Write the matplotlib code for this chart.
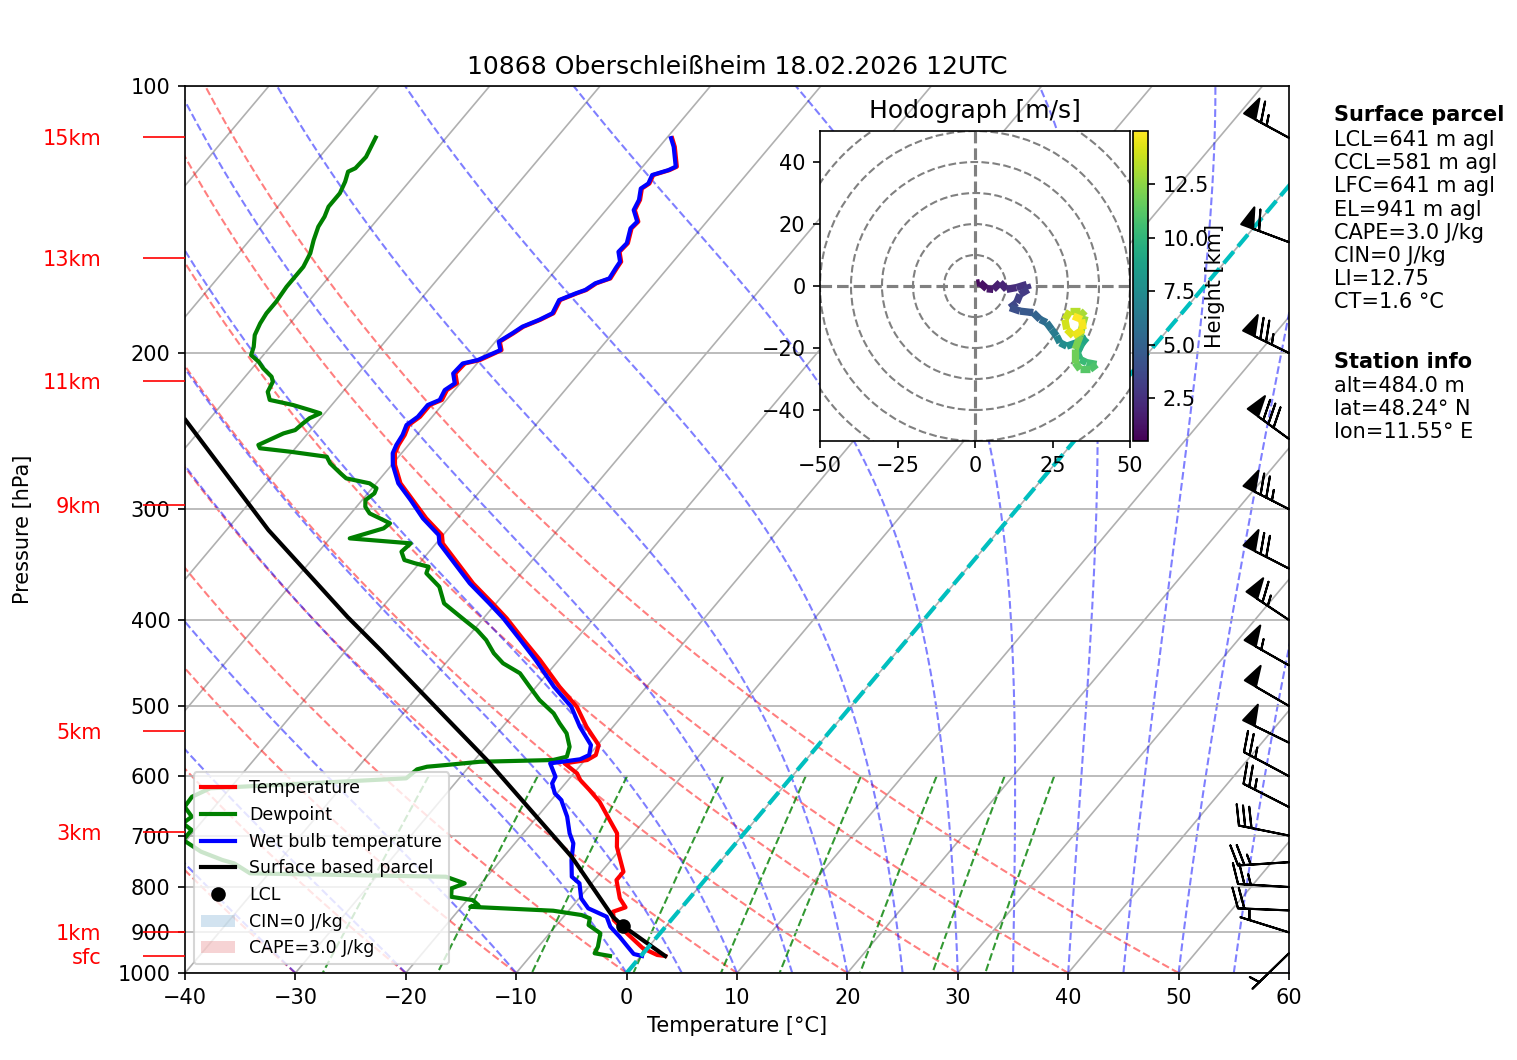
import numpy as np
import matplotlib
matplotlib.use('Agg')
import matplotlib.pyplot as plt
import matplotlib.transforms as mtransforms
from matplotlib.collections import LineCollection
from matplotlib.patches import Circle, Patch
from matplotlib.ticker import NullLocator

## sounding values (hPa, degC)
p_t = [114.5, 117.1, 123.3, 124.4, 126.0, 128.8, 130.5, 134.4, 138.0, 142.2,
       144.7, 150.4, 153.8, 157.8, 160.5, 164.8, 166.9, 169.8, 171.3, 174.3,
       180.4, 183.5, 186.8, 190.0, 194.2, 198.5, 203.7, 205.5, 210.9, 216.4,
       220.2, 225.9, 228.9, 236.0, 241.1, 247.4, 253.9, 259.4, 267.4, 280.5,
       293.0, 307.2, 320.8, 327.8, 363.7, 383.1, 398.2, 421.3, 443.7, 475.6,
       501.0, 527.7, 553.4, 567.9, 575.3, 580.3, 595.6, 606.0, 621.9, 641.1,
       672.2, 696.0, 720.6, 768.9, 785.6, 823.9, 843.3, 852.9, 871.5, 902.1,
       938.0, 954.3, 956.8]
temp = [-59.5, -58.6, -56.9, -57.3, -58.4, -58.1, -58.4, -57.7, -57.4, -56.2,
        -56.3, -55.5, -55.6, -54.7, -54.6, -54.4, -55.3, -55.7, -56.3, -57.3,
        -56.9, -57.6, -58.6, -59.0, -59.6, -58.8, -60.0, -61.1, -61.2, -60.3,
        -60.7, -60.4, -61.1, -61.1, -61.5, -61.1, -60.9, -60.6, -59.7, -57.8,
        -55.4, -52.8, -50.1, -49.4, -43.6, -40.3, -37.9, -34.7, -31.7, -27.9,
        -24.8, -22.4, -19.9, -19.4, -19.8, -21.6, -19.7, -18.9, -17.3, -15.5,
        -13.2, -11.5, -10.5, -8.0, -8.0, -6.3, -5.1, -5.9, -5.2, -3.0,
        -0.4, 1.4, 2.2]

p_tw = [114.5, 117.1, 123.3, 124.4, 126.0, 128.8, 130.5, 134.4, 138.0, 142.2,
        144.7, 150.4, 153.8, 157.8, 160.5, 164.8, 166.9, 169.8, 171.3, 174.3,
        180.4, 183.5, 186.8, 190.0, 194.2, 198.5, 203.7, 205.5, 210.9, 216.4,
        220.2, 225.9, 228.9, 236.0, 241.1, 247.4, 253.9, 259.4, 267.4, 280.5,
        293.0, 307.2, 320.8, 327.8, 363.7, 383.1, 398.2, 421.3, 443.7, 475.6,
        501.0, 527.7, 553.4, 567.9, 574.2, 580.3, 600.8, 611.2, 627.2, 638.3,
        666.4, 696.0, 714.3, 745.9, 778.9, 792.4, 823.9, 845.5, 864.0, 886.8,
        910.1, 934.1, 951.9, 956.8]
wetbulb = [-59.6, -58.7, -57.0, -57.4, -58.5, -58.2, -58.5, -57.8, -57.5, -56.3,
           -56.4, -55.6, -55.7, -54.8, -54.7, -54.5, -55.4, -55.8, -56.4, -57.4,
           -57.0, -57.7, -58.7, -59.1, -59.7, -58.9, -60.2, -61.3, -61.4, -60.5,
           -60.9, -60.6, -61.3, -61.3, -61.7, -61.3, -61.1, -60.8, -59.9, -58.0,
           -55.6, -53.1, -50.4, -49.7, -43.9, -40.6, -38.2, -35.0, -32.1, -28.4,
           -25.3, -23.0, -20.6, -20.0, -20.5, -22.9, -21.4, -21.2, -20.2, -19.1,
           -17.3, -15.8, -14.7, -13.6, -12.3, -11.1, -9.8, -8.4, -6.1, -5.0,
           -3.4, -1.9, -0.8, 0.1]

p_td = [114.3, 120.2, 123.8, 124.9, 128.2, 132.1, 136.8, 140.4, 144.1, 149.2,
        154.4, 159.9, 164.8, 168.4, 175.1, 180.4, 185.2, 190.9, 196.8, 201.1,
        204.6, 208.1, 212.7, 215.5, 221.2, 225.9, 228.9, 231.9, 233.9, 236.9,
        240.1, 244.3, 246.4, 253.9, 256.1, 258.4, 261.8, 266.3, 273.3, 276.9,
        280.5, 284.1, 287.9, 293.0, 298.1, 303.3, 307.2, 311.2, 315.3, 323.6,
        327.8, 335.0, 342.3, 345.2, 348.3, 354.3, 366.9, 383.1, 399.9, 410.4,
        421.3, 436.0, 447.5, 459.3, 475.6, 492.3, 509.6, 523.0, 536.8, 555.9,
        570.4, 575.3, 577.9, 582.8, 585.4, 589.4, 603.3, 619.1, 632.9, 649.5,
        666.4, 678.0, 689.9, 708.0, 729.8, 745.9, 752.3, 772.1, 778.9, 792.4,
        802.7, 820.5, 827.6, 838.4, 842.1, 850.7, 860.3, 867.7, 882.9, 902.1,
        934.1, 950.1, 956.8]
dewpoint = [-86.4, -85.8, -85.9, -86.3, -85.8, -85.4, -85.4, -85.0, -84.8, -84.2,
            -83.5, -83.1, -83.1, -83.1, -82.9, -82.9, -82.7, -82.3, -81.5, -81.1,
            -79.9, -79.0, -77.6, -77.1, -76.8, -76.0, -73.5, -71.6, -70.4, -71.0,
            -71.2, -71.4, -72.2, -73.6, -73.2, -70.2, -66.5, -65.7, -64.0, -63.1,
            -60.6, -59.6, -59.4, -59.7, -59.2, -58.3, -57.0, -55.7, -55.9, -58.2,
            -52.3, -52.5, -51.6, -50.4, -48.9, -48.6, -46.4, -44.7, -41.6, -39.7,
            -38.1, -36.4, -34.8, -32.5, -30.6, -28.7, -26.4, -25.1, -23.7, -22.4,
            -21.9, -22.9, -29.4, -32.2, -33.8, -34.5, -34.8, -51.8, -52.8, -52.7,
            -51.3, -51.6, -50.3, -50.3, -47.8, -45.2, -43.9, -41.7, -23.7, -21.5,
            -22.3, -21.7, -19.5, -18.6, -19.2, -11.4, -8.5, -7.5, -7.1, -5.4,
            -4.6, -4.4, -2.8]

p_parcel = [956.8, 885.3, 864.7, 740.0, 575.2, 432.4, 396.9, 316.7, 238.0]
t_parcel = [2.2, -3.9, -5.5, -13.8, -28.9, -46.9, -52.4, -66.2, -82.1]
lcl_p, lcl_t = 885.3, -3.9

# wind barbs (kt)
barb_p = [114.4, 150, 200, 250, 300, 350, 400, 450, 500, 550,
          600, 650, 700, 750, 800, 850, 900, 950]
barb_u = [57.1, 56.2, 67.4, 64.6, 66.8, 62.3, 54.1, 47.8, 43.2, 44.9,
          22.0, 22.3, 29.4, 25.0, 25.0, 20.0, 4.8, 3.6]
barb_v = [-31.0, -21.1, -32.9, -47.2, -34.1, -31.9, -36.1, -27.2, -25.1, -22.0,
          -11.8, -11.4, -5.9, 1.6, -1.5, -0.8, -1.5, 3.5]

# hodograph (m/s) and height (km)
hodo_u = [0.5, 1.6, 3.8, 5.9, 8.1, 10.2, 13.4, 16.7, 17.2, 14.5,
          13.4, 11.3, 14.5, 18.8, 21.0, 23.1, 24.7, 26.3, 27.4, 29.6,
          32.8, 36.0, 34.5, 33.0, 33.9, 36.0, 39.2, 37.1, 33.9, 32.3,
          32.3, 33.9, 34.9, 35.5, 33.9, 30.6, 29.0, 29.6, 31.7, 34.9,
          34.4, 31.7]
hodo_v = [0.9, 1.1, -0.9, -1.1, 1.1, -1.1, -0.5, 0.5, -1.1, -2.7,
          -5.4, -7.0, -8.1, -8.6, -10.8, -11.8, -14.0, -16.1, -18.3, -19.4,
          -18.3, -16.7, -18.5, -21.5, -23.7, -24.7, -25.3, -26.9, -26.9, -24.7,
          -20.4, -16.1, -11.8, -9.7, -8.1, -8.1, -10.8, -14.0, -16.1, -14.0,
          -10.8, -9.7]
hodo_h = [0.5, 0.8, 1.1, 1.4, 1.7, 2.0, 2.3, 2.6, 2.8, 3.0,
          3.3, 3.6, 4.0, 4.5, 5.0, 5.5, 6.0, 6.5, 7.0, 7.5,
          8.0, 8.5, 9.0, 9.5, 10.0, 10.3, 10.6, 10.9, 11.2, 11.5,
          11.8, 12.1, 12.5, 12.8, 13.1, 13.4, 13.7, 14.0, 14.3, 14.6,
          14.8, 15.0]

height_p = [956.8, 899.0, 693.5, 533.6, 296.8, 215.1, 156.3, 114.2]
height_labels = ['sfc', '1km', '3km', '5km', '9km', '11km', '13km', '15km']

title = '10868 Oberschleißheim 18.02.2026 12UTC'
parcel_lines = ['LCL=641 m agl', 'CCL=581 m agl', 'LFC=641 m agl', 'EL=941 m agl',
                'CAPE=3.0 J/kg', 'CIN=0 J/kg', 'LI=12.75', 'CT=1.6 °C']
station_lines = ['alt=484.0 m', 'lat=48.24° N', 'lon=11.55° E']

## background lines
dry_t0 = np.arange(-40, 51, 10)
moist_t0 = np.concatenate((np.arange(-40, 0, 10), np.arange(0, 61, 5)))
mix_w = [0.0004, 0.001, 0.002, 0.004, 0.007, 0.01, 0.016, 0.024, 0.032]

SKEW = 0.676
W, H = 1517, 1060


def dtdp(T, p):
    es = 6.112 * np.exp(17.67 * (T - 273.15) / (T - 29.65))
    rs = 0.622 * es / (p - es)
    Lv = 2.501e6
    return (287.04 * T + Lv * rs) / (1005.7 + Lv * Lv * rs * 0.622 / (287.04 * T * T)) / p


def moist_curve(t0, pres):
    T = t0 + 273.15
    out = [T]
    for i in range(len(pres) - 1):
        p0, p1 = pres[i], pres[i + 1]
        h = p1 - p0
        k1 = dtdp(T, p0)
        k2 = dtdp(T + h / 2 * k1, p0 + h / 2)
        k3 = dtdp(T + h / 2 * k2, p0 + h / 2)
        k4 = dtdp(T + h * k3, p1)
        T = T + h / 6 * (k1 + 2 * k2 + 2 * k3 + k4)
        out.append(T)
    return np.array(out) - 273.15


fig = plt.figure(figsize=(W / 150, H / 150), dpi=150)
ax = fig.add_axes([185 / W, 87 / H, 1104 / W, 887 / H])
ax.set_yscale('log')
ax.set_ylim(1000, 100)
ax.set_xlim(-40, 60)
ax.set_autoscale_on(False)
skew = ax.transScale + ax.transLimits + mtransforms.Affine2D().skew(np.arctan(SKEW), 0) + ax.transAxes

# isotherms
for t0 in range(-110, 61, 10):
    ax.plot([t0, t0], [1000, 100], color='#b0b0b0', lw=0.8, transform=skew, zorder=1)

pres = np.linspace(1000, 100, 181)
for t0 in dry_t0:
    tt = (t0 + 273.15) * (pres / 1000.) ** 0.2857 - 273.15
    ax.plot(tt, pres, color='r', ls='--', lw=1, alpha=0.5, transform=skew, zorder=1.2)
for t0 in moist_t0:
    ax.plot(moist_curve(t0, pres), pres, color='b', ls='--', lw=1, alpha=0.5, transform=skew, zorder=1.2)
pmix = np.linspace(600, 1000, 7)
for w in mix_w:
    e = pmix * w / (0.622 + w)
    val = np.log(e / 6.112)
    ax.plot(243.5 * val / (17.67 - val), pmix, color='g', ls='--', lw=1, alpha=0.8, transform=skew, zorder=1.2)

# profiles
l_t, = ax.plot(temp, p_t, color='r', lw=2, transform=skew, label='Temperature')
l_td, = ax.plot(dewpoint, p_td, color='g', lw=2, transform=skew, label='Dewpoint')
l_tw, = ax.plot(wetbulb, p_tw, color='b', lw=2, transform=skew, label='Wet bulb temperature')
l_pc, = ax.plot(t_parcel, p_parcel, color='k', lw=2, transform=skew, label='Surface based parcel')
l_lcl, = ax.plot([lcl_t], [lcl_p], 'ko', transform=skew, label='LCL')
ax.plot([0, 0], [1000, 100], color='c', ls='--', lw=2, transform=skew)

cin_patch = Patch(facecolor='tab:blue', alpha=0.2, label='CIN=0 J/kg')
cape_patch = Patch(facecolor='tab:red', alpha=0.2, label='CAPE=3.0 J/kg')
ax.legend(handles=[l_t, l_td, l_tw, l_pc, l_lcl, cin_patch, cape_patch],
          loc='lower left', fontsize='small')

# wind barbs at right edge
bt = mtransforms.blended_transform_factory(ax.transAxes, ax.transData)
ax.barbs(np.ones(len(barb_p)), barb_p, barb_u, barb_v, transform=bt,
         clip_on=False, length=7, zorder=5)

ax.set_xticks(range(-40, 61, 10))
ax.set_yticks(range(100, 1001, 100))
ax.set_yticklabels([str(v) for v in range(100, 1001, 100)])
ax.yaxis.set_minor_locator(NullLocator())
ax.yaxis.grid(True, color='#b0b0b0', lw=0.8)
ax.set_xlabel('Temperature [°C]')
ax.set_ylabel('Pressure [hPa]')
ax.yaxis.set_label_coords(-0.1377, 0.5)
ax.set_title(title)

# heights on the left
ax2 = ax.twinx()
ax2.set_yscale('log')
ax2.set_ylim(1000, 100)
ax2.yaxis.tick_left()
ax2.set_yticks(height_p)
ax2.set_yticklabels(height_labels)
ax2.yaxis.set_minor_locator(NullLocator())
ax2.tick_params(axis='y', length=20, pad=20, color='red', labelcolor='red')
for s in ax2.spines.values():
    s.set_visible(False)

# hodograph
hax = fig.add_axes([820 / W, (H - 441) / H, 310 / W, 310 / H])
hax.set_xlim(-50, 50)
hax.set_ylim(-50, 50)
for r in range(10, 61, 10):
    hax.add_patch(Circle((0, 0), r, fill=False, edgecolor='grey', linestyle='--', lw=1))
hax.axvline(0, color='grey', ls='--', lw=1.5)
hax.axhline(0, color='grey', ls='--', lw=1.5)
pts = np.column_stack([hodo_u, hodo_v]).reshape(-1, 1, 2)
segs = np.concatenate([pts[:-1], pts[1:]], axis=1)
lc = LineCollection(segs, cmap='viridis', norm=plt.Normalize(min(hodo_h), max(hodo_h)), lw=3.5)
lc.set_array(np.array(hodo_h[1:]))
hax.add_collection(lc)
hax.set_xticks([-50, -25, 0, 25, 50])
hax.set_yticks([-40, -20, 0, 20, 40])
hax.set_title('Hodograph [m/s]')

cax = fig.add_axes([1133 / W, (H - 441) / H, 15 / W, 310 / H])
cb = fig.colorbar(lc, cax=cax)
cb.set_ticks([2.5, 5.0, 7.5, 10.0, 12.5])
cax.text(5.47, 0.5, 'Height [km]', rotation=90, ha='center', va='center', transform=cax.transAxes)

# info text
tx = 1334 / W
fig.text(tx, 1 - 105 / H, 'Surface parcel', weight='bold', va='top')
fig.text(tx, 1 - 130 / H, '\n'.join(parcel_lines), va='top')
fig.text(tx, 1 - 352 / H, 'Station info', weight='bold', va='top')
fig.text(tx, 1 - 376 / H, '\n'.join(station_lines), va='top')

fig.savefig('out.png', dpi=150)
